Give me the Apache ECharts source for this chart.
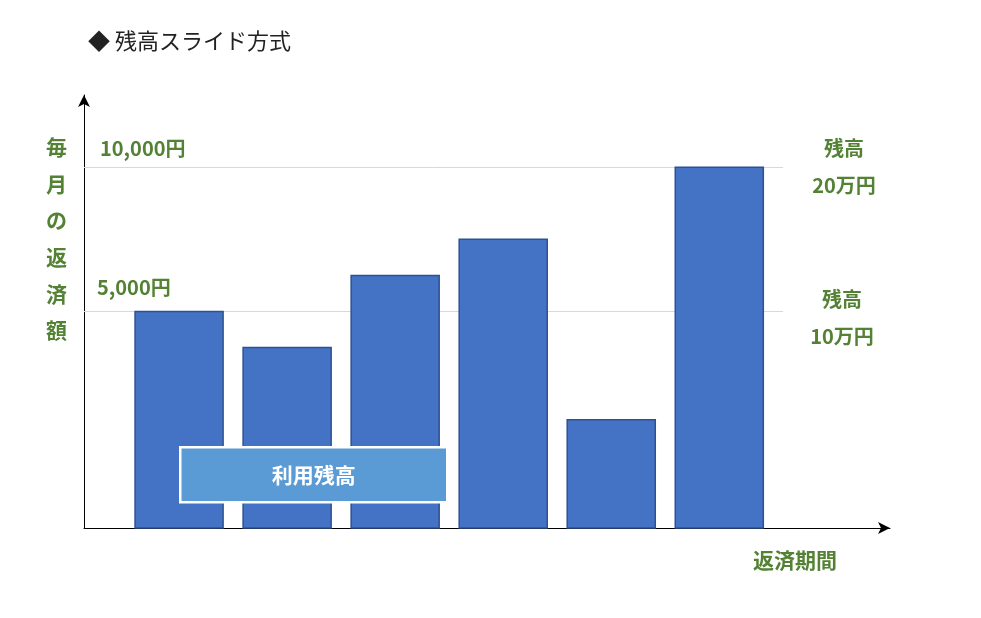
<!DOCTYPE html>
<html>
<head>
<meta charset="utf-8">
<script src="https://cdn.jsdelivr.net/npm/echarts@6/dist/echarts.min.js"></script>
<style>html,body{margin:0;padding:0;background:#fff}#c{width:981px;height:618px}</style>
</head>
<body>
<div id="c"></div>
<script>
// ---- data ----
var periods = [1, 2, 3, 4, 5, 6];
var payments = [5000, 3750, 6250, 7500, 1250, 10000];
var gridValues = [10000, 5000];
var leftLabels = ['10,000円', '5,000円'];
var rightLabels = [['残高', '20万円'], ['残高', '10万円']];
var titleText = '◆ 残高スライド方式';
var yName = ['毎', '月', 'の', '返', '済', '額'];
var xName = '返済期間';
var boxText = '利用残高';

var yMin = -2500, yMax = 12500;
var xMin = 0.12, xMax = 7.58;
var lineEndX = 6.59;
var barW = 0.815;
var FONT = '"Noto Sans CJK JP", "Noto Sans", sans-serif';
var GREEN = '#548235';
var leftDist = [[16, 9], [13, 14]];
var rightOffset = [[-1, 0], [-3, 6]];

var chart = echarts.init(document.getElementById('c'));

var gridLines = [], rightMarks = [];
gridValues.forEach(function (v, i) {
  gridLines.push([
    { coord: [xMin, v], label: { show: true, position: 'insideStartTop', formatter: leftLabels[i], distance: leftDist[i],
      color: GREEN, fontSize: 20, fontWeight: 'bold', fontFamily: FONT, opacity: 1 } },
    { coord: [lineEndX, v] }
  ]);
  rightMarks.push([
    { coord: [xMin, v],
      label: { show: true, position: 'end', distance: 28, offset: rightOffset[i], opacity: 1,
        formatter: '{a|' + rightLabels[i][0] + '}\n{a|' + rightLabels[i][1] + '}',
        rich: { a: { width: 68, align: 'center', color: GREEN, fontSize: 20, fontWeight: 'bold', fontFamily: FONT, lineHeight: 37 } } } },
    { coord: [lineEndX, v] }
  ]);
});

var option = {
  animation: false,
  backgroundColor: '#fff',
  title: [
    { text: titleText, left: 83, top: 25, textStyle: { fontSize: 22, fontWeight: 'normal', color: '#222', fontFamily: FONT } },
    { text: yName.join('\n'), left: 41, top: 124, textStyle: { fontSize: 21, fontWeight: 'bold', color: GREEN, fontFamily: FONT, lineHeight: 36.6 } },
    { text: xName, left: 748, top: 545, textStyle: { fontSize: 21, fontWeight: 'bold', color: GREEN, fontFamily: FONT } }
  ],
  grid: { left: 84, right: 91, top: 95, bottom: 90, containLabel: false },
  xAxis: {
    type: 'value', min: xMin, max: xMax,
    axisLine: { show: true, onZero: false, symbol: ['none', 'arrow'], symbolSize: [9, 12], lineStyle: { color: '#000', width: 1 } },
    axisTick: { show: false }, axisLabel: { show: false }, splitLine: { show: false }
  },
  yAxis: {
    type: 'value', min: yMin, max: yMax,
    axisLine: { show: true, onZero: false, symbol: ['none', 'arrow'], symbolSize: [9, 12], lineStyle: { color: '#000', width: 1 } },
    axisTick: { show: false }, axisLabel: { show: false }, splitLine: { show: false }
  },
  series: [{
    type: 'line',
    data: [],
    z: 1,
    markLine: {
      silent: true, symbol: ['none', 'none'], z: 1,
      lineStyle: { color: '#D9D9D9', width: 1, type: 'solid' },
      data: gridLines
    }
  }, {
    type: 'line',
    data: [],
    z: 1,
    markLine: {
      silent: true, symbol: ['none', 'none'], z: 1,
      lineStyle: { color: 'rgba(0,0,0,0)', width: 1, type: 'solid' },
      data: rightMarks
    }
  }, {
    type: 'custom',
    clip: false,
    z: 10,
    data: periods.map(function (p, i) { return [p, payments[i]]; }),
    renderItem: function (params, api) {
      var x = api.value(0), v = api.value(1);
      var top = api.coord([x, v]);
      var base = api.coord([x, yMin]);
      var w = api.size([barW, 0])[0];
      return {
        type: 'rect',
        shape: { x: top[0] - w / 2, y: top[1], width: w, height: base[1] - top[1] },
        style: { fill: '#4472C4', stroke: '#2F528F', lineWidth: 1.5 }
      };
    }
  }],
  graphic: [{
    type: 'group', left: 179, top: 446, z: 100, zlevel: 1,
    children: [
      { type: 'rect', z: 100, shape: { x: 0, y: 0, width: 267, height: 55 }, style: { fill: '#5B9BD5', stroke: '#fff', lineWidth: 2.5 } },
      { type: 'text', z: 101, x: 133.5, y: 27.5, style: { text: boxText, fill: '#fff', font: 'bold 21px ' + FONT, align: 'center', verticalAlign: 'middle' } }
    ]
  }]
};
chart.setOption(option);
</script>
</body>
</html>
